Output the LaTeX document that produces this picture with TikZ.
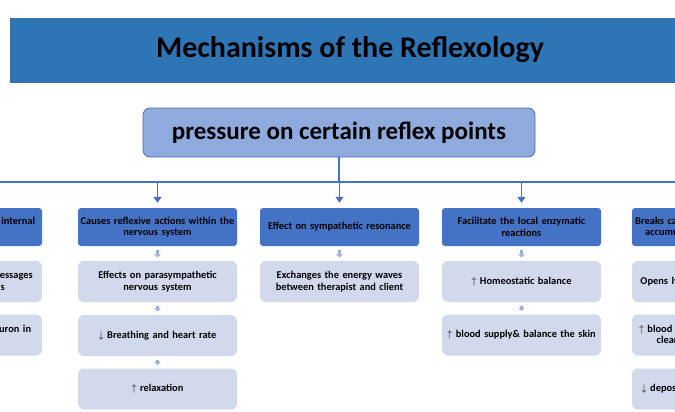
\documentclass[tikz,border=0pt]{standalone}
\usepackage{fontspec}
\setmainfont{Carlito}
\usetikzlibrary{arrows.meta}
\definecolor{bandblue}{HTML}{2E75B6}
\definecolor{bandedge}{HTML}{41719C}
\definecolor{pressfill}{HTML}{8FAADC}
\definecolor{pressedge}{HTML}{4A6FB5}
\definecolor{linkblue}{HTML}{4472C4}
\definecolor{stepfill}{HTML}{D3D9EC}
\definecolor{stubgray}{HTML}{9DAED8}
\begin{document}
\begin{tikzpicture}[x=1pt,y=-1pt,
	band/.style={draw=bandedge, fill=bandblue, minimum width=680pt, minimum height=64pt, inner sep=0pt},
	press/.style={draw=pressedge, fill=pressfill, rounded corners=7pt, line width=0.8pt, minimum width=392pt, minimum height=49pt, inner sep=0pt},
	cause/.style={fill=linkblue, rounded corners=3pt, minimum width=159pt, minimum height=38pt, text width=157pt, align=center, inner sep=0pt, font=\fontsize{10.4}{11.5}\selectfont\bfseries},
	effect/.style={fill=stepfill, rounded corners=6pt, minimum width=159pt, minimum height=41pt, text width=157pt, align=center, inner sep=0pt, font=\fontsize{10.4}{11.5}\selectfont\bfseries},
	link/.style={draw=linkblue, line width=1.6pt},
	stub/.style={draw=stubgray, line width=3.6pt, -{Triangle[width=6.5pt,length=3pt]}, shorten <=3.5pt, shorten >=3.5pt}]
\useasboundingbox (0,0) rectangle (675,412);
\clip (0,0) rectangle (675,412);
\fill[white] (0,0) rectangle (675,412);
%----------------------------------------------------------
	% Title and root
	%------------------------------------------------------
	\node[band] (title) at (350,50) {\fontsize{30}{34}\selectfont\bfseries Mechanisms of the Reflexology};
	\node[press] (root) at (339,132.5) {\fontsize{25}{28}\selectfont\bfseries pressure on certain reflex points};
	\coordinate (busL) at (-5,182);
	\coordinate (busR) at (680,182);

	%Column 1
	%------------------------------------------------------
	\node[cause] (a1) at (-37.5,227) {Sends nerve impulses to internal\\organs};
	\node[effect] (a2) at (-37.5,281.5) {Carries nerve impulse messages\\to the body organs};
	\node[effect] (a3) at (-37.5,335) {Stimulates a sensory neuron in\\the feet};

	%Column 2
	%------------------------------------------------------
	\node[cause] (b1) at (157.5,227) {Causes reflexive actions within the\\nervous system};
	\node[effect] (b2) at (157.5,281.5) {Effects on parasympathetic\\nervous system};
	\node[effect] (b3) at (157.5,335.5) {$\downarrow$ Breathing and heart rate};
	\node[effect] (b4) at (157.5,389) {$\uparrow$ relaxation};

	%Column 3
	%------------------------------------------------------
	\node[cause] (c1) at (339.5,227) {Effect on sympathetic resonance};
	\node[effect] (c2) at (339.5,281.5) {Exchanges the energy waves\\between therapist and client};

	%Column 4
	%------------------------------------------------------
	\node[cause] (d1) at (521.5,227) {Facilitate the local enzymatic\\reactions};
	\node[effect] (d2) at (521.5,281.5) {$\uparrow$ Homeostatic balance};
	\node[effect] (d3) at (521.5,335) {$\uparrow$ blood supply\& balance the skin};

	%Column 5
	%------------------------------------------------------
	\node[cause] (e1) at (711.5,227) {Breaks calcium \& uric acid crystals\\accumulated at nerve endings};
	\node[effect] (e2) at (711.5,281.5) {Opens lymphatic drainage paths};
	\node[effect] (e3) at (711.5,335) {$\uparrow$ blood and lymph circulation to\\clear out waste products};
	\node[effect] (e4) at (711.5,389) {$\downarrow$ deposits of toxins and wastes};

	%Lines
	%------------------------------------------------------
	\draw[link] (busL) -- (busR);
	\draw[link] (root.south) -- (root.south |- busL);
	\foreach \col in {a1,b1,c1,d1,e1}
		\draw[link, -{Triangle[width=8pt,length=6pt]}, shorten >=5pt] (\col.north |- busL) -- (\col.north);

	%Small arrows
	%------------------------------------------------------
	\draw[stub] (a1) -- (a2);
	\draw[stub] (a2) -- (a3);
	\draw[stub] (b1) -- (b2);
	\draw[stub] (b2) -- (b3);
	\draw[stub] (b3) -- (b4);
	\draw[stub] (c1) -- (c2);
	\draw[stub] (d1) -- (d2);
	\draw[stub] (d2) -- (d3);
	\draw[stub] (e1) -- (e2);
	\draw[stub] (e2) -- (e3);
	\draw[stub] (e3) -- (e4);
\end{tikzpicture}
\end{document}
